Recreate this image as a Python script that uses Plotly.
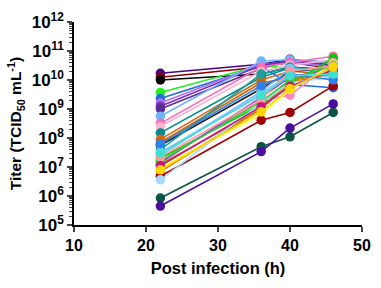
import plotly.graph_objects as go

hours = [22, 36, 40, 46]

colors = [
    "#4B0082", "#8B0000", "#000000", "#22EE22", "#1E6FD9", "#B070F0", "#7B2FBE",
    "#5B2C8F", "#6CB4FF", "#FF69B4", "#FFB3D1", "#008B8B", "#D2691E", "#CC6600",
    "#222222", "#1A9E9E", "#9ACDFF", "#7FBFFF", "#00CC00", "#FF88C0", "#9B30FF",
    "#B8860B", "#FFFF55", "#E07B00", "#A00000", "#A8D8FF", "#0B5345", "#4A0E9E",
    "#32CD32", "#2F80ED", "#FF9999", "#C71585", "#40E0D0", "#FFD700",
]

titers = [
    [1.7e10, 3.5e10, 5.2e10, 3.2e10],
    [1.25e10, 2.8e10, 4.0e10, 2.5e10],
    [1.0e10, 1.6e10, 2.8e10, 2.2e10],
    [3.7e9, 3.2e10, 2.5e10, 2.0e10],
    [2.3e9, 3.0e10, 7.0e9, 5.4e9],
    [1.6e9, 3.5e10, 4.0e10, 2.8e10],
    [1.25e9, 3.2e10, 4.5e10, 3.2e10],
    [1.0e9, 2.5e10, 5.0e10, 4.0e10],
    [5.6e8, 4.5e10, 5.0e10, 4.0e10],
    [3.2e8, 2.8e10, 4.0e10, 6.6e10],
    [2.5e8, 2.0e10, 3.2e10, 5.0e10],
    [1.5e8, 1.25e10, 2.6e10, 2.2e10],
    [9.0e7, 1.0e10, 2.0e10, 1.6e10],
    [7.0e7, 8.0e9, 1.15e10, 1.6e10],
    [5.6e7, 5.0e9, 2.0e10, 2.5e10],
    [4.0e7, 1.6e10, 2.8e10, 2.0e10],
    [3.2e7, 3.5e9, 1.6e10, 1.25e10],
    [2.5e7, 4.0e9, 2.5e10, 2.0e10],
    [2.0e7, 1.4e9, 7.2e9, 5.6e10],
    [1.6e7, 2.0e9, 3.0e9, 4.0e10],
    [1.4e7, 2.5e9, 1.25e10, 2.5e10],
    [1.25e7, 1.0e9, 1.0e10, 1.6e10],
    [1.0e7, 6.3e8, 4.7e9, 3.5e10],
    [7.0e6, 1.0e9, 8.0e9, 1.8e10],
    [4.8e6, 4.1e8, 7.6e8, 6.3e9],
    [3.6e6, 1.6e9, 8.0e9, 1.25e10],
    [8.5e5, 5.0e7, 1.1e8, 7.6e8],
    [4.5e5, 3.4e7, 2.2e8, 1.5e9],
    [1.6e7, 1.8e9, 1.0e10, 3.2e10],
    [6.3e7, 6.3e9, 1.6e10, 1.0e10],
    [2.2e7, 2.2e9, 2.0e10, 3.0e10],
    [1.1e7, 1.2e9, 6.0e9, 2.2e10],
    [3.0e7, 3.0e9, 1.4e10, 1.6e10],
    [8.0e6, 8.0e8, 5.0e9, 2.8e10],
]

ytick_vals = [1e5, 1e6, 1e7, 1e8, 1e9, 1e10, 1e11, 1e12]
ytick_text = ["10<sup>5</sup>", "10<sup>6</sup>", "10<sup>7</sup>", "10<sup>8</sup>",
              "10<sup>9</sup>", "10<sup>10</sup>", "10<sup>11</sup>", "10<sup>12</sup>"]
xtick_vals = [10, 20, 30, 40, 50]

fig = go.Figure()
for c, ys in zip(colors, titers):
    fig.add_trace(go.Scatter(
        x=hours, y=ys, mode="lines+markers",
        line=dict(color=c, width=1.6),
        marker=dict(color=c, size=9.5),
        showlegend=False,
    ))

font_family = "Liberation Sans, Arial, sans-serif"
fig.update_layout(
    width=381, height=288,
    margin=dict(l=74, r=10, t=12, b=63),
    plot_bgcolor="white", paper_bgcolor="white",
    font=dict(family=font_family, color="black", size=14, weight="bold"),
)
fig.update_xaxes(
    range=[10, 50], tickvals=xtick_vals, ticks="outside", ticklen=5, tickwidth=1.5,
    showline=True, linecolor="black", linewidth=1.5, showgrid=False, zeroline=False,
    tickfont=dict(size=16, family=font_family, weight="bold"),
    ticklabeloverflow="allow",
    title=dict(text="Post infection (h)", font=dict(size=16.5, family=font_family, weight="bold"), standoff=9),
)
fig.update_yaxes(
    type="log", range=[5, 12], tickvals=ytick_vals, ticktext=ytick_text,
    ticks="outside", ticklen=5, tickwidth=1.5,
    minor=dict(ticks="outside", ticklen=3, tickwidth=1, dtick="D1", showgrid=False),
    showline=True, linecolor="black", linewidth=1.5, showgrid=False, zeroline=False,
    tickfont=dict(size=17, family=font_family, weight="bold"),
    ticklabeloverflow="allow",
    title=dict(text="Titer (TCID<sub>50</sub> mL<sup>-1</sup>)", font=dict(size=15.5, family=font_family, weight="bold"), standoff=6),
)

fig.write_html("out.html", config={"displayModeBar": False},
               post_script="document.body.style.margin='0';")
